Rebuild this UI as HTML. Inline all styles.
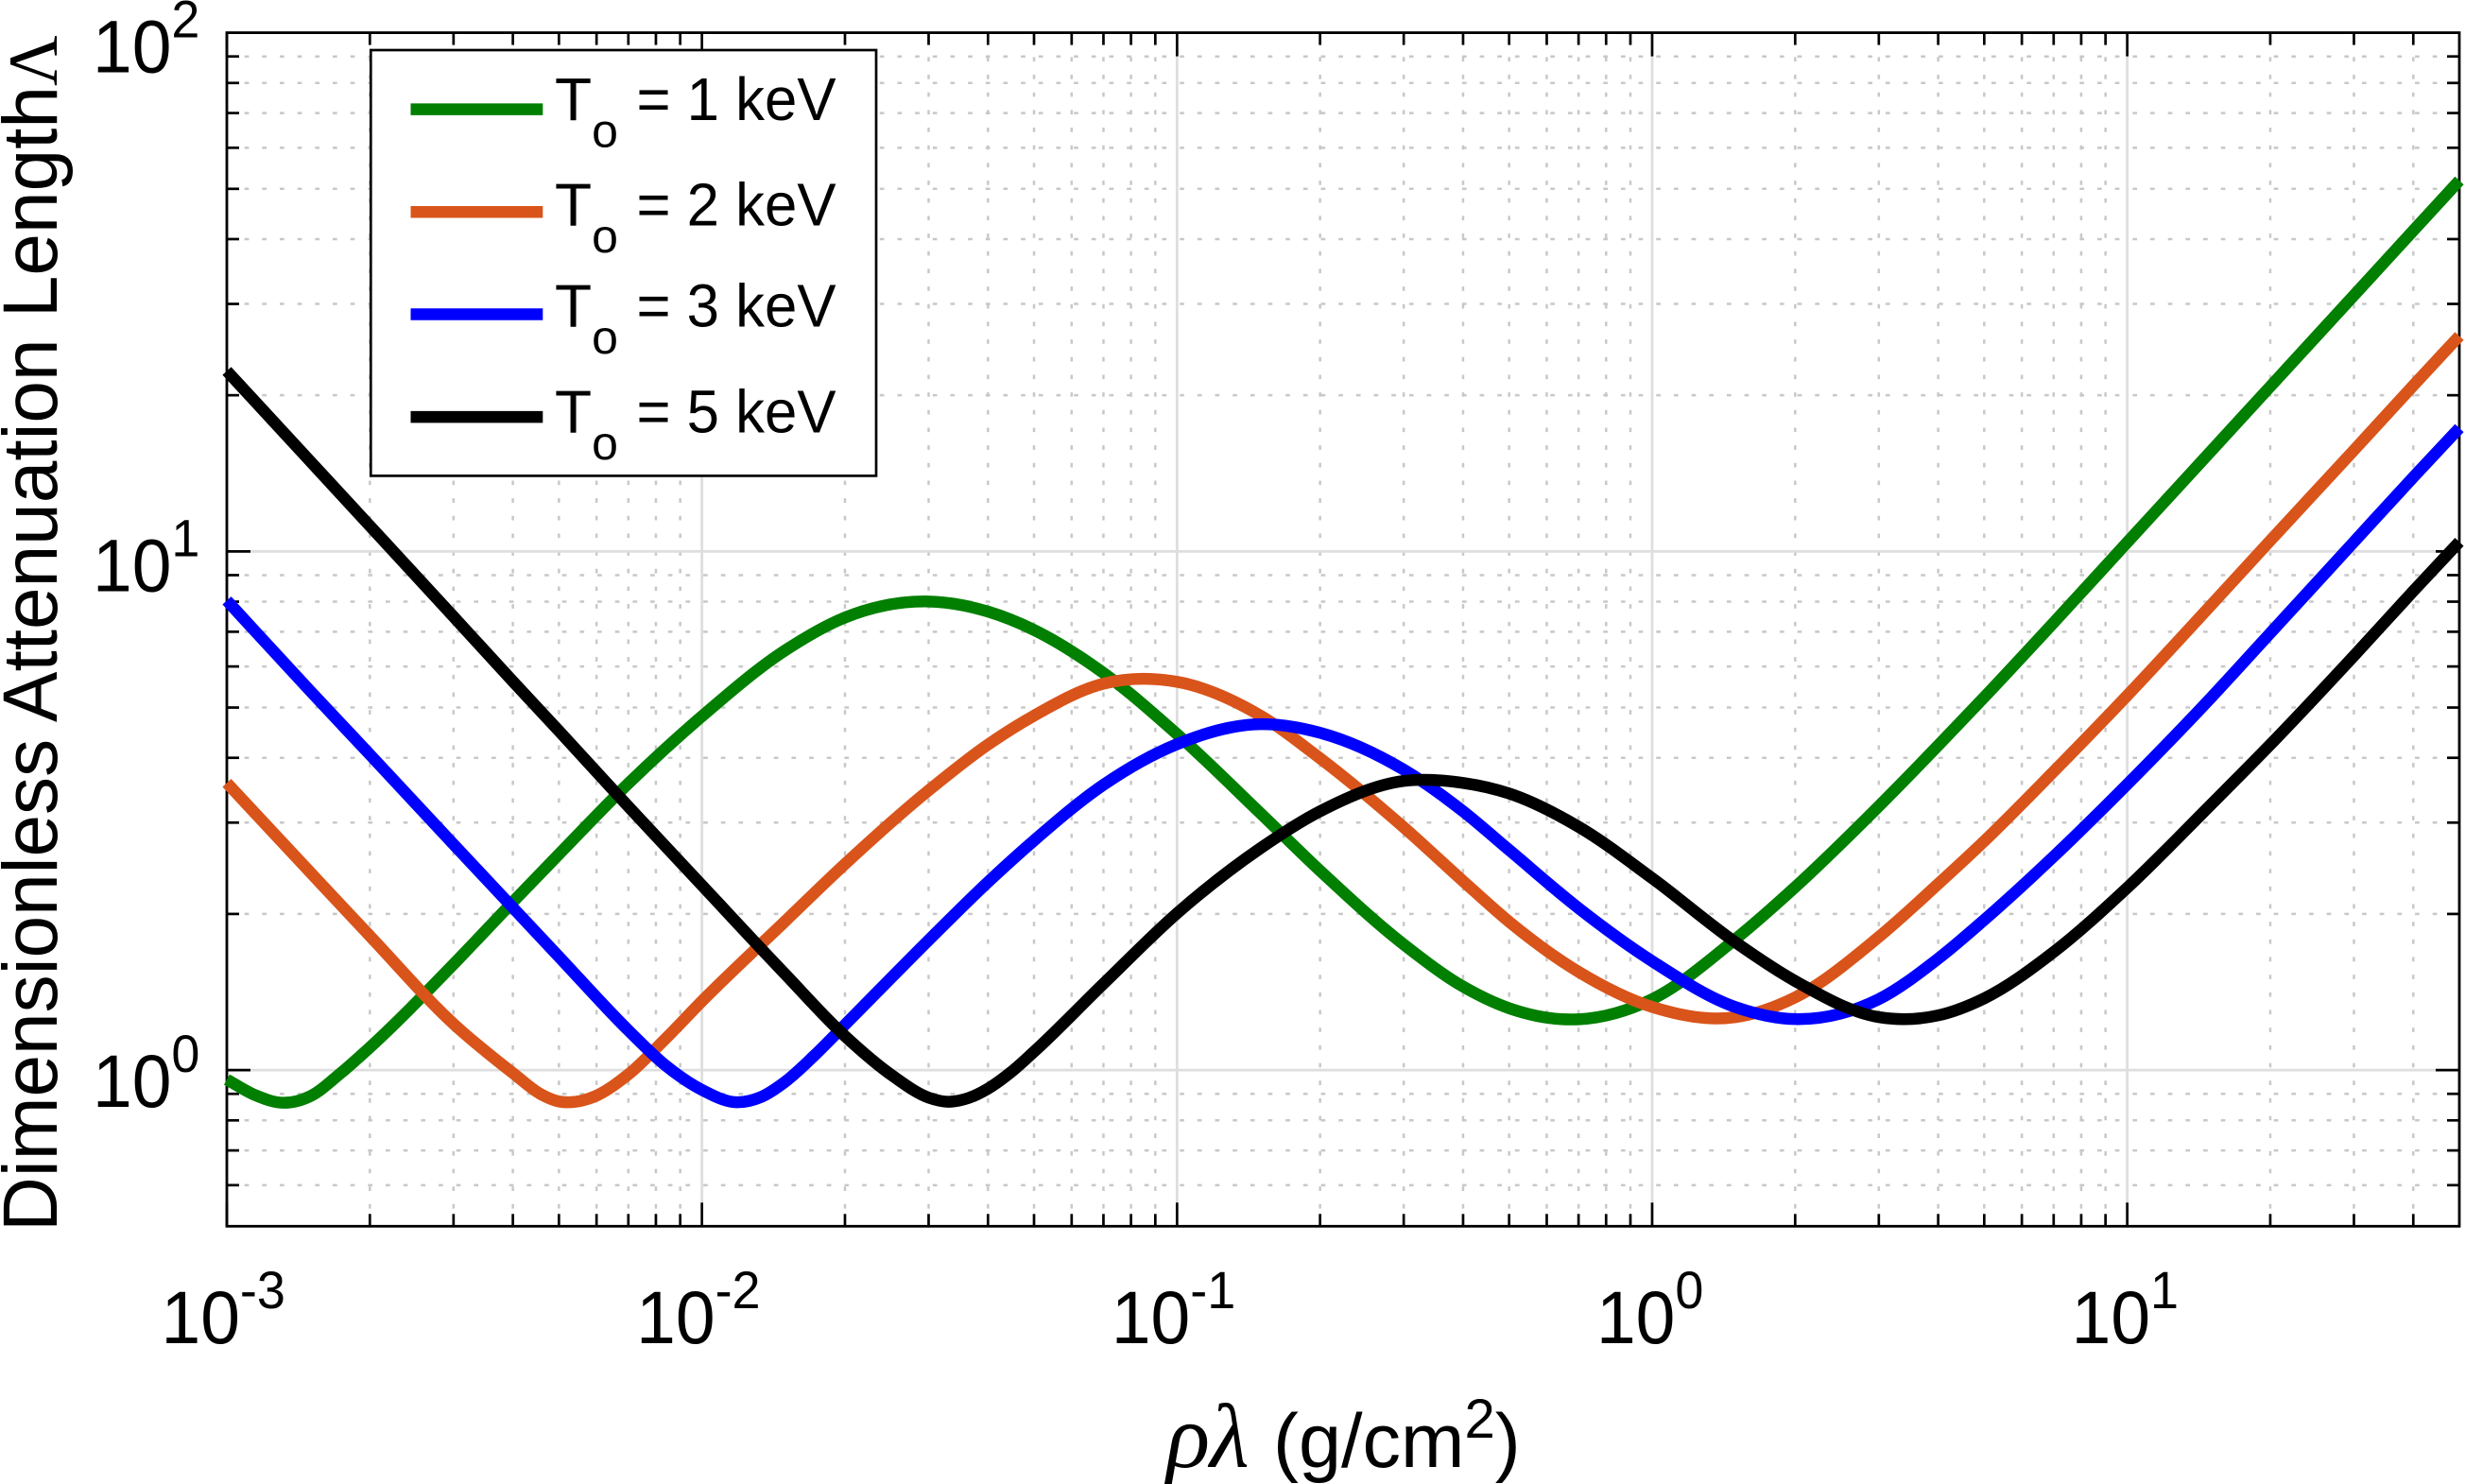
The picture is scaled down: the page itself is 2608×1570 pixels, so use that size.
<!DOCTYPE html>
<html lang="en">
<head>
<meta charset="utf-8">
<title>Dimensionless Attenuation Length</title>
<style>
html,body{margin:0;padding:0;background:#fff;}
svg{display:block;font-family:"Liberation Sans",Arial,sans-serif;}
</style>
</head>
<body>
<svg id="chart" xmlns="http://www.w3.org/2000/svg" width="2608" height="1570" viewBox="0 0 2608 1570">
  <rect width="2608" height="1570" fill="#fff"/>
  <g id="grid"></g>
  <g id="axes"></g>
  <g id="legend">
    <rect x="392.3" y="53" width="534.7" height="450.4" fill="#fff" stroke="#000" stroke-width="2.7"/>
    <line x1="434.5" x2="574.3" y1="115.6" y2="115.6" stroke="#007f00" stroke-width="12.5"/>
    <line x1="434.5" x2="574.3" y1="224.3" y2="224.3" stroke="#d9541a" stroke-width="12.5"/>
    <line x1="434.5" x2="574.3" y1="332.5" y2="332.5" stroke="#0000ff" stroke-width="12.5"/>
    <line x1="434.5" x2="574.3" y1="441.1" y2="441.1" stroke="#000" stroke-width="12.5"/>
    <text x="587" y="127" font-size="64">T<tspan font-size="50" dy="28.5">o</tspan><tspan x="673.5" dy="-28.5" textLength="211" lengthAdjust="spacingAndGlyphs" xml:space="preserve">= 1 keV</tspan></text>
    <text x="587" y="238.6" font-size="64">T<tspan font-size="50" dy="28.5">o</tspan><tspan x="673.5" dy="-28.5" textLength="211" lengthAdjust="spacingAndGlyphs" xml:space="preserve">= 2 keV</tspan></text>
    <text x="587" y="345.7" font-size="64">T<tspan font-size="50" dy="28.5">o</tspan><tspan x="673.5" dy="-28.5" textLength="211" lengthAdjust="spacingAndGlyphs" xml:space="preserve">= 3 keV</tspan></text>
    <text x="587" y="457.3" font-size="64">T<tspan font-size="50" dy="28.5">o</tspan><tspan x="673.5" dy="-28.5" textLength="211" lengthAdjust="spacingAndGlyphs" xml:space="preserve">= 5 keV</tspan></text>
  </g>
  <g id="series"></g>
  <g id="labels"></g>
  <text y="1552" font-size="81"><tspan x="1234" font-family="'Liberation Serif',serif" font-style="italic" font-size="96">ρλ</tspan><tspan x="1347">(g/cm</tspan><tspan font-size="58" dy="-31">2</tspan><tspan dy="31">)</tspan></text>
  <text transform="translate(60,1303) rotate(-90)" font-size="82"><tspan textLength="1212" lengthAdjust="spacingAndGlyphs">Dimensionless Attenuation Length</tspan><tspan font-family="'Liberation Serif',serif" font-size="74">Λ</tspan></text>
</svg>
<script>
const rho1keV = [
  0.001,0.001147,0.001312,0.0015,0.001733,0.002,0.003,0.004,0.005,0.007,
  0.01,0.015,0.02,0.03,0.04,0.05,0.07,
  0.1,0.15,0.2,0.3,0.4,0.5,0.7,
  1,1.5,2,3,4,5,7,
  10,15,20,30,40,50];
const lambda1keV = [
  0.959,0.895,0.865,0.891,0.985,1.106,1.600,2.110,2.607,3.569,
  4.810,6.452,7.456,8.007,7.655,7.056,5.829,
  4.443,3.124,2.423,1.747,1.449,1.316,1.253,
  1.370,1.791,2.253,3.227,4.226,5.235,7.289,
  10.41,15.6,20.79,31.16,41.53,51.87];
const rho2keV = [
  0.001,0.0015,0.002,0.003,0.004,0.004576,0.005,0.005243,0.005969,0.007,0.008339,
  0.01,0.015,0.02,0.03,0.04,0.05,0.07,
  0.1,0.15,0.2,0.3,0.4,0.5,0.7,
  1,1.5,2,3,4,5,7,
  10,15,20,30,40,50];
const lambda2keV = [
  3.578,2.403,1.814,1.228,0.987,0.899,0.870,0.867,0.891,0.981,1.144,
  1.358,1.940,2.496,3.461,4.241,4.823,5.559,
  5.605,4.821,3.991,2.938,2.314,1.932,1.547,
  1.324,1.265,1.381,1.806,2.285,2.763,3.763,
  5.275,7.873,10.49,15.67,20.88,26.02];
const rho3keV = [
  0.001,0.0015,0.002,0.003,0.004,0.005,0.007,0.008339,
  0.01,0.01183,0.0133,0.015,0.01728,0.02,0.03,0.04,0.05,0.07,
  0.1,0.15,0.2,0.3,0.4,0.5,0.7,
  1,1.5,2,3,4,5,7,
  10,15,20,30,40,50];
const lambda3keV = [
  8.041,5.375,4.059,2.725,2.057,1.654,1.193,1.025,
  0.916,0.867,0.887,0.951,1.069,1.223,1.780,2.304,2.771,3.548,
  4.250,4.645,4.470,3.795,3.155,2.657,2.052,
  1.622,1.322,1.254,1.370,1.640,1.948,2.581,
  3.556,5.221,6.957,10.43,13.90,17.29];
const rho5keV = [
  0.001,0.0015,0.002,0.003,0.004,0.005,0.007,
  0.01,0.015,0.02,0.02527,0.03,0.033,0.03646,0.04,0.04479,0.05,0.07,
  0.1,0.15,0.2,0.3,0.4,0.5,0.7,
  1,1.5,2,3,4,5,7,
  10,15,20,30,40,50];
const lambda5keV = [
  22.28,14.90,11.20,7.486,5.616,4.507,3.222,
  2.271,1.528,1.163,0.973,0.885,0.869,0.884,0.921,0.992,1.085,1.467,
  2.006,2.680,3.155,3.609,3.578,3.414,2.945,
  2.344,1.762,1.485,1.265,1.275,1.375,1.689,
  2.247,3.249,4.241,6.290,8.385,10.43];
const xTickExponents = ['-3','-2','-1','0','1'];
const yTickExponents = ['0','1','2'];
const xMinorMantissas = [2,3,4,5,6,7,8,9];
const yMinorValues = [0.6,0.7,0.8,0.9,2,3,4,5,6,7,8,9,20,30,40,50,60,70,80,90];

const NS = 'http://www.w3.org/2000/svg';
const L = 240, R = 2602, T = 34.6, B = 1297.3;
const X_MIN = 1e-3, X_MAX = 50, Y_MIN = 0.5, Y_MAX = 100;
function sx(v){ return L + (Math.log10(v) - Math.log10(X_MIN)) / (Math.log10(X_MAX) - Math.log10(X_MIN)) * (R - L); }
function sy(v){ return B - (Math.log10(v) - Math.log10(Y_MIN)) / (Math.log10(Y_MAX) - Math.log10(Y_MIN)) * (B - T); }
function mk(tag, attrs, parent){
  const e = document.createElementNS(NS, tag);
  for (const k in attrs) e.setAttribute(k, attrs[k]);
  parent.appendChild(e);
  return e;
}
const gridG = document.getElementById('grid');
const axesG = document.getElementById('axes');
const seriesG = document.getElementById('series');
const labelsG = document.getElementById('labels');

// minor grid
const DASH = '4.7 13.97';
yMinorValues.forEach(function(v){
  const el = mk('line', {x1:L, x2:R, y1:sy(v), y2:sy(v), stroke:'#c8c8c8', 'stroke-width':2.5, 'stroke-dasharray':DASH}, gridG);
  
  
});
xTickExponents.forEach(function(ex){
  xMinorMantissas.forEach(function(m){
    const v = m * Math.pow(10, Number(ex));
    if (v >= X_MAX) return;
    const el = mk('line', {x1:sx(v), x2:sx(v), y1:B, y2:T, stroke:'#c8c8c8', 'stroke-width':2.5, 'stroke-dasharray':DASH}, gridG);
    
    
  });
});
// major grid
xTickExponents.forEach(function(ex){
  const v = Math.pow(10, Number(ex));
  const el = mk('line', {x1:sx(v), x2:sx(v), y1:B, y2:T, stroke:'#dedede', 'stroke-width':2.8}, gridG);
  
  
});
yTickExponents.forEach(function(ex){
  const v = Math.pow(10, Number(ex));
  const el = mk('line', {x1:L, x2:R, y1:sy(v), y2:sy(v), stroke:'#dedede', 'stroke-width':2.8}, gridG);
  
  
});
// ticks
function xTick(v, len){
  const a = mk('line', {x1:sx(v), x2:sx(v), y1:B, y2:B-len, stroke:'#000', 'stroke-width':2.7}, axesG);
  
  
  const b = mk('line', {x1:sx(v), x2:sx(v), y1:T, y2:T+len, stroke:'#000', 'stroke-width':2.7}, axesG);
  
  
}
function yTick(v, len){
  const a = mk('line', {x1:L, x2:L+len, y1:sy(v), y2:sy(v), stroke:'#000', 'stroke-width':2.7}, axesG);
  
  
  const b = mk('line', {x1:R, x2:R-len, y1:sy(v), y2:sy(v), stroke:'#000', 'stroke-width':2.7}, axesG);
  
  
}
xTickExponents.forEach(function(ex){
  const d = Math.pow(10, Number(ex));
  xTick(d, 25);
  xMinorMantissas.forEach(function(m){ if (m * d < X_MAX) xTick(m * d, 13); });
});
yTickExponents.forEach(function(ex){ if (ex !== '2') yTick(Math.pow(10, Number(ex)), 25); });
yMinorValues.forEach(function(v){ yTick(v, 13); });
const frame = mk('rect', {x:L, y:T, width:R-L, height:B-T, fill:'none', stroke:'#000', 'stroke-width':2.8}, axesG);



// tick labels
function powerLabel(x, y, ex, parent){
  const t = mk('text', {x:x, y:y, 'font-size':79}, parent);
  const base = mk('tspan', {textLength:83.4, lengthAdjust:'spacingAndGlyphs'}, t);
  base.textContent = '10';
  const s = mk('tspan', {'font-size':56, dy:-37, textLength:(ex.length > 1 ? 48 : 30), lengthAdjust:'spacingAndGlyphs'}, t);
  s.textContent = ex;
  return t;
}
xTickExponents.forEach(function(ex){
  const off = ex.charAt(0) === '-' ? 69.5 : 59;
  const t = powerLabel(sx(Math.pow(10, Number(ex))) - off, 1421, ex, labelsG);
  
  
});
yTickExponents.forEach(function(ex){
  const t = powerLabel(98, sy(Math.pow(10, Number(ex))) + (ex === '0' ? 39 : 42), ex, labelsG);
  
  
});

// curves: smooth Hermite path through the read values, in screen space
function curvePath(xs, ys){
  const px = xs.map(sx), py = ys.map(sy), n = px.length, m = [];
  for (let i = 0; i < n; i++){
    if (i === 0) m.push((py[1]-py[0])/(px[1]-px[0]));
    else if (i === n-1) m.push((py[n-1]-py[n-2])/(px[n-1]-px[n-2]));
    else {
      const h0 = px[i]-px[i-1], h1 = px[i+1]-px[i];
      const d0 = (py[i]-py[i-1])/h0, d1 = (py[i+1]-py[i])/h1;
      m.push((d0*h1 + d1*h0)/(h0+h1));
    }
  }
  let d = 'M' + px[0].toFixed(2) + ' ' + py[0].toFixed(2);
  for (let i = 0; i < n-1; i++){
    const h = (px[i+1]-px[i])/3;
    d += 'C' + (px[i]+h).toFixed(2) + ' ' + (py[i]+m[i]*h).toFixed(2) + ' ' +
         (px[i+1]-h).toFixed(2) + ' ' + (py[i+1]-m[i+1]*h).toFixed(2) + ' ' +
         px[i+1].toFixed(2) + ' ' + py[i+1].toFixed(2);
  }
  return d;
}
const c1 = mk('path', {d:curvePath(rho1keV, lambda1keV), fill:'none', stroke:'#007f00', 'stroke-width':12.5}, seriesG);


const c2 = mk('path', {d:curvePath(rho2keV, lambda2keV), fill:'none', stroke:'#d9541a', 'stroke-width':12.5}, seriesG);


const c3 = mk('path', {d:curvePath(rho3keV, lambda3keV), fill:'none', stroke:'#0000ff', 'stroke-width':12.5}, seriesG);


const c5 = mk('path', {d:curvePath(rho5keV, lambda5keV), fill:'none', stroke:'#000', 'stroke-width':12.5}, seriesG);


</script>
</body>
</html>
